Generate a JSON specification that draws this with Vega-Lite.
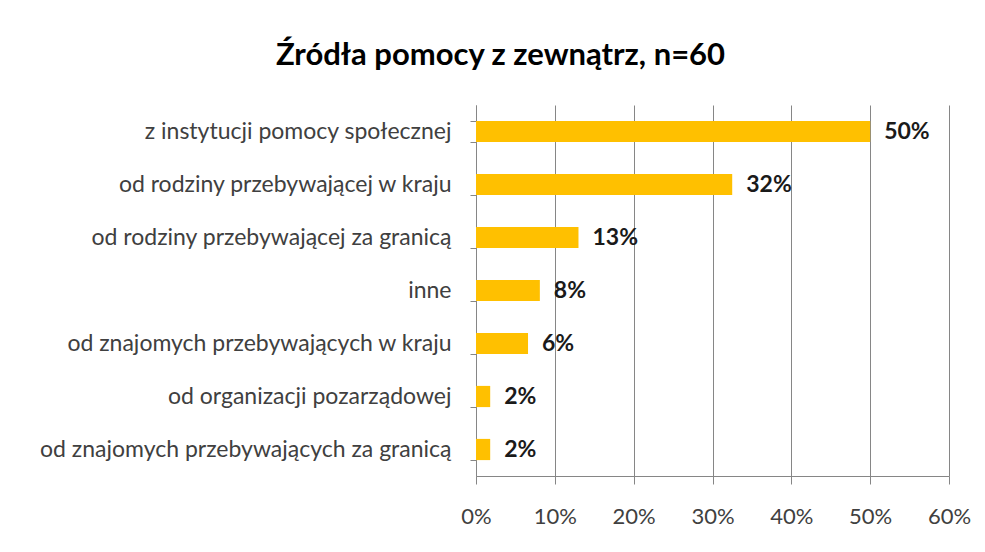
{
  "$schema": "https://vega.github.io/schema/vega-lite/v6.json",
  "width": 473,
  "height": 371,
  "autosize": "none",
  "padding": {"left": 476, "top": 105, "right": 36, "bottom": 76},
  "background": "white",
  "title": {
    "text": "Źródła pomocy z zewnątrz, n=60",
    "anchor": "middle",
    "frame": "group",
    "dx": -212,
    "dy": 42,
    "offset": 40,
    "baseline": "alphabetic",
    "font": "Lato",
    "fontSize": 31,
    "fontWeight": "bold",
    "color": "#000000"
  },
  "data": {
    "values": [
      {"zrodlo": "z instytucji pomocy społecznej", "udzial": 0.50, "etykieta": "50%"},
      {"zrodlo": "od rodziny przebywającej w kraju", "udzial": 0.325, "etykieta": "32%"},
      {"zrodlo": "od rodziny przebywającej za granicą", "udzial": 0.13, "etykieta": "13%"},
      {"zrodlo": "inne", "udzial": 0.081, "etykieta": "8%"},
      {"zrodlo": "od znajomych przebywających w kraju", "udzial": 0.066, "etykieta": "6%"},
      {"zrodlo": "od organizacji pozarządowej", "udzial": 0.018, "etykieta": "2%"},
      {"zrodlo": "od znajomych przebywających za granicą", "udzial": 0.018, "etykieta": "2%"}
    ]
  },
  "encoding": {
    "y": {
      "field": "zrodlo",
      "type": "nominal",
      "sort": null,
      "title": null,
      "scale": {"paddingInner": 0.6, "paddingOuter": 0.3},
      "axis": {
        "domainColor": "#868686",
        "tickColor": "#868686",
        "tickSize": 6,
        "tickBand": "extent",
        "labelPadding": 19,
        "labelFont": "Lato",
        "labelFontSize": 23,
        "labelColor": "#404040",
        "labelLimit": 600
      }
    },
    "x": {
      "field": "udzial",
      "type": "quantitative",
      "title": null,
      "scale": {"domain": [0, 0.6], "nice": false},
      "axis": {
        "values": [0, 0.1, 0.2, 0.3, 0.4, 0.5, 0.6],
        "format": ".0%",
        "grid": true,
        "gridColor": "#868686",
        "domainColor": "#868686",
        "tickColor": "#868686",
        "tickSize": 8,
        "labelPadding": 22,
        "labelFlush": false,
        "labelFont": "Lato",
        "labelFontSize": 22,
        "labelColor": "#404040"
      }
    }
  },
  "layer": [
    {"mark": {"type": "bar", "color": "#FFC000"}},
    {
      "mark": {"type": "text", "align": "left", "baseline": "middle", "dx": 14, "font": "Lato", "fontSize": 23, "fontWeight": "bold", "color": "#1a1a1a"},
      "encoding": {"text": {"field": "etykieta"}}
    }
  ],
  "config": {"view": {"stroke": null}}
}
